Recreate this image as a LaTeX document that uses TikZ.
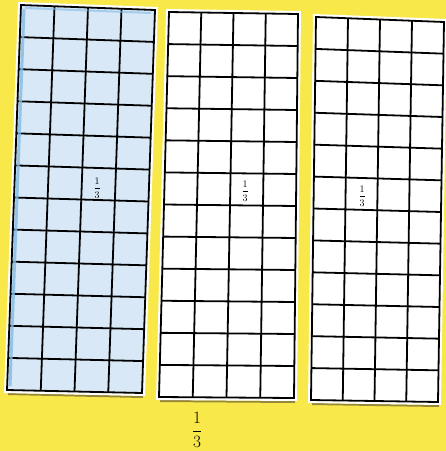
\documentclass[tikz,border=0pt]{standalone}
\usetikzlibrary{calc}
\definecolor{bgyellow}{RGB}{248,232,74}
\definecolor{paperblue}{RGB}{216,232,246}
\definecolor{edgeblue}{RGB}{130,186,228}
\definecolor{shadowc}{RGB}{110,95,50}
\newcommand\gridstrip[6]{%
  \coordinate (#1tl) at #2;
  \coordinate (#1tr) at #3;
  \coordinate (#1br) at #4;
  \coordinate (#1bl) at #5;
  \draw[shadowline] ($(#1bl)+(1,4)$) -- ($(#1br)+(1,4)$);
  \fill[white] ($(#1tl)+(-3,-3)$) -- ($(#1tr)+(3,-3)$) -- ($(#1br)+(3,3)$) -- ($(#1bl)+(-3,3)$) -- cycle;
  \fill[#6] (#1tl) -- (#1tr) -- (#1br) -- (#1bl) -- cycle;
  \foreach \i in {1,2,3}
    \draw[gridline] ($(#1tl)!{\i/4}!(#1tr)$) -- ($(#1bl)!{\i/4}!(#1br)$);
  \foreach \j in {1,...,11}
    \draw[gridline] ($(#1tl)!{\j/12}!(#1bl)$) -- ($(#1tr)!{\j/12}!(#1br)$);
  \draw[gridline,line join=miter] (#1tl) -- (#1tr) -- (#1br) -- (#1bl) -- cycle;
}
\newcommand\onethird{$\displaystyle\frac{1}{3}$}
\begin{document}
\begin{tikzpicture}[x=1pt,y=-1pt,
  gridline/.style={line width=1.8pt,black},
  shadowline/.style={line width=2pt,shadowc,opacity=0.7},
  smallfrac/.style={font=\normalsize,inner sep=0pt},
  bigfrac/.style={font=\LARGE,inner sep=0pt}]
\fill[bgyellow] (0,0) rectangle (446,451);
\useasboundingbox (0,0) rectangle (446,451);
% strip 1 (blue)
\gridstrip{a}{(21,5)}{(155,10)}{(142,393)}{(7,390)}{paperblue}
\draw[edgeblue,line width=3pt,opacity=0.8] ($(atl)+(3,4)$) -- ($(abl)+(3,-4)$);
\draw[edgeblue,line width=2pt,opacity=0.6] ($(atl)+(4,3)$) -- ($(atr)+(-4,3)$);
% strip 2
\gridstrip{b}{(169,12)}{(298,14)}{(294,398)}{(159,397)}{white}
% strip 3
\gridstrip{c}{(316,17)}{(444,22)}{(438,402)}{(311,400)}{white}
% labels
\node[smallfrac] (la) at (97,188) {\onethird};
\node[smallfrac] (lb) at (245,191) {\onethird};
\node[smallfrac] (lc) at (362,196) {\onethird};
\node[bigfrac] (ld) at (197,430) {\onethird};
\end{tikzpicture}
\end{document}
